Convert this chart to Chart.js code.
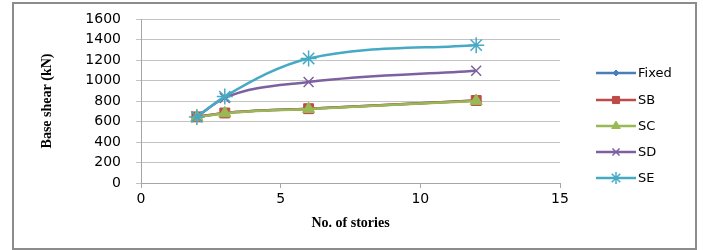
<!DOCTYPE html>
<html>
<head>
<meta charset="utf-8">
<script src="https://cdn.jsdelivr.net/npm/chart.js@4.4.0/dist/chart.umd.min.js"></script>
<style>
  html, body { margin: 0; padding: 0; background: #fff; }
  #wrap { position: relative; width: 703px; height: 250px; }
</style>
</head>
<body>
<div id="wrap"><canvas id="c" width="703" height="250"></canvas></div>
<script>
// Data
const stories = [2, 3, 6, 12];
const fixedShear = [645, 683, 725, 805];
const sbShear = [645, 683, 725, 805];
const scShear = [641, 680, 722, 801];
const sdShear = [645, 830, 985, 1095];
const seShear = [645, 843, 1215, 1345];
const seriesNames = ['Fixed', 'SB', 'SC', 'SD', 'SE'];
const yTicks = [0, 200, 400, 600, 800, 1000, 1200, 1400, 1600];
const xTicks = [0, 5, 10, 15];

const colors = ['#4A7EBB', '#BE4B48', '#98B954', '#7D60A0', '#46AAC5'];
const styles = ['rectRot', 'rect', 'triangle', 'crossRot', 'star'];
const radii = [5, 7, 7, 7, 8];
const allData = [fixedShear, sbShear, scShear, sdShear, seShear];

function pts(vals) {
    return stories.map((s, i) => ({ x: s, y: vals[i] }));
}

const datasets = seriesNames.map((name, i) => ({
    label: name,
    data: pts(allData[i]),
    borderColor: colors[i],
    backgroundColor: colors[i],
    borderWidth: 2.5,
    pointStyle: styles[i],
    pointRadius: radii[i],
    pointBorderWidth: (i >= 3) ? 1.5 : 1,
    cubicInterpolationMode: 'monotone',
    fill: false,
    order: 5 - i
}));

// custom legend + frame
const extras = {
    id: 'extras',
    afterDraw(chart) {
        const ctx = chart.ctx;
        ctx.save();
        ctx.strokeStyle = '#8c8c8c';
        ctx.lineWidth = 2;
        ctx.strokeRect(13, 3, 683, 246);

        const x0 = 596, x1 = 636;
        const ys = [73, 100, 126, 152, 178];
        ctx.font = '13px "DejaVu Sans", Verdana, sans-serif';
        ctx.textBaseline = 'middle';
        datasets.forEach((d, i) => {
            const y = ys[i];
            ctx.strokeStyle = d.borderColor;
            ctx.lineWidth = 2.5;
            ctx.beginPath();
            ctx.moveTo(x0, y);
            ctx.lineTo(x1, y);
            ctx.stroke();
            ctx.lineWidth = d.pointBorderWidth;
            ctx.fillStyle = d.backgroundColor;
            Chart.helpers.drawPoint(ctx, {
                pointStyle: d.pointStyle,
                radius: d.pointRadius - 2,
                borderWidth: d.pointBorderWidth,
                rotation: 0
            }, (x0 + x1) / 2, y);
            ctx.fillStyle = '#000';
            ctx.fillText(d.label, x1 + 2, y + 1);
        });
        ctx.restore();
    }
};

new Chart(document.getElementById('c'), {
    type: 'line',
    data: { datasets: datasets },
    options: {
        responsive: false,
        animation: false,
        layout: { padding: { left: 0, right: 143, top: 19, bottom: 0 } },
        plugins: {
            legend: { display: false },
            tooltip: { enabled: false }
        },
        scales: {
            x: {
                type: 'linear',
                min: 0,
                max: 15,
                afterBuildTicks(axis) { axis.ticks = xTicks.map(v => ({ value: v })); },
                afterFit(axis) { axis.height = 67; axis.paddingLeft = 0; axis.paddingRight = 0; },
                grid: { drawOnChartArea: false, tickLength: 5, color: '#a6a6a6' },
                border: { color: '#a6a6a6', width: 1 },
                ticks: { color: '#000', padding: 3, font: { family: '"DejaVu Sans", Verdana, sans-serif', size: 14 } },
                title: {
                    display: true,
                    text: 'No. of stories',
                    color: '#000',
                    padding: { top: 2, bottom: 18 },
                    font: { family: '"Liberation Serif", "Times New Roman", serif', size: 14, weight: 'bold' }
                }
            },
            y: {
                min: 0,
                max: 1600,
                afterBuildTicks(axis) { axis.ticks = yTicks.map(v => ({ value: v })); },
                afterFit(axis) { axis.width = 141; axis.paddingTop = 0; axis.paddingBottom = 0; },
                grid: { color: '#c3c3c3', tickLength: 5, lineWidth: 1 },
                border: { color: '#a6a6a6', width: 1 },
                ticks: {
                    color: '#000',
                    padding: 15,
                    callback: v => String(v),
                    font: { family: '"DejaVu Sans", Verdana, sans-serif', size: 14 }
                },
                title: {
                    display: true,
                    text: 'Base shear (kN)',
                    color: '#000',
                    padding: { top: 39, bottom: 0 },
                    font: { family: '"Liberation Serif", "Times New Roman", serif', size: 14, weight: 'bold' }
                }
            }
        }
    },
    plugins: [extras]
});
</script>
</body>
</html>
